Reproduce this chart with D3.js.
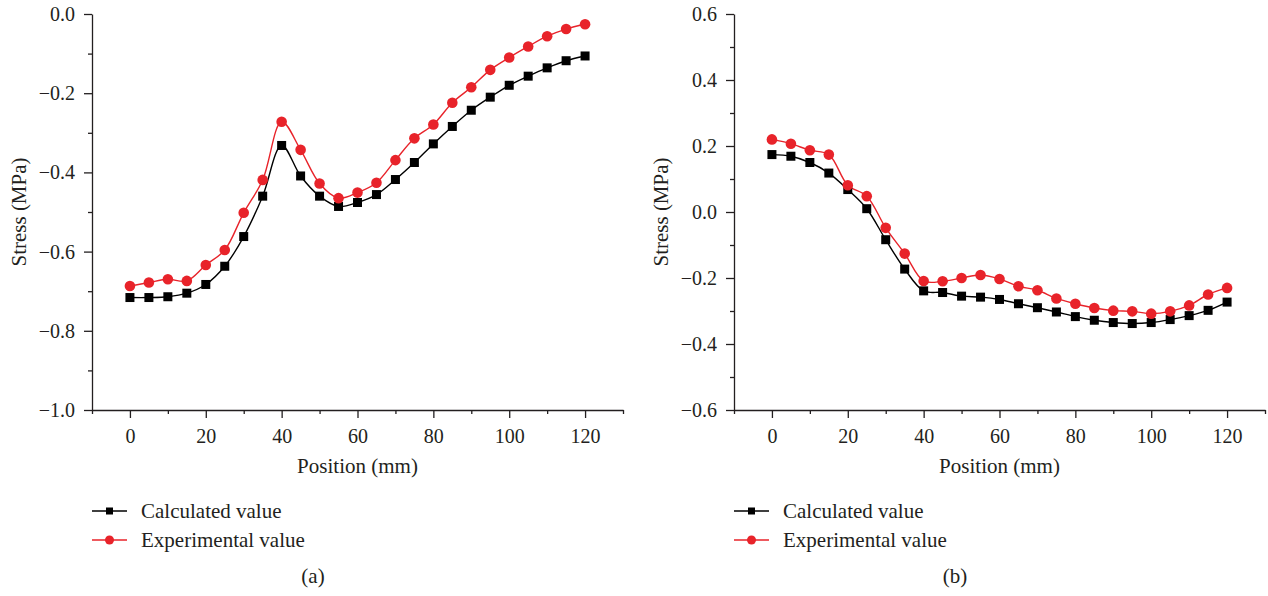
<!DOCTYPE html>
<html>
<head>
<meta charset="utf-8">
<script src="https://cdn.jsdelivr.net/npm/d3@7"></script>
<style>
  body { margin: 0; background: #fff; }
  svg text { font-family: "Liberation Serif", "DejaVu Serif", serif; fill: #231f20; }
  .axis path, .axis line { stroke: #231f20; stroke-width: 1.3px; }
</style>
</head>
<body>
<svg id="chart" width="1268" height="596"></svg>
<script>
// positions along the specimen (mm)
var positions = [0, 5, 10, 15, 20, 25, 30, 35, 40, 45, 50, 55, 60, 65, 70, 75, 80, 85, 90, 95, 100, 105, 110, 115, 120];

// panel (a)
var calcA = [-0.716, -0.716, -0.714, -0.705, -0.683, -0.637, -0.562, -0.460, -0.332, -0.409, -0.460, -0.486, -0.476, -0.456, -0.418, -0.375, -0.328, -0.284, -0.243, -0.210, -0.180, -0.157, -0.136, -0.118, -0.106];
var expA = [-0.687, -0.678, -0.670, -0.674, -0.634, -0.596, -0.502, -0.419, -0.272, -0.343, -0.428, -0.465, -0.451, -0.426, -0.369, -0.314, -0.279, -0.224, -0.185, -0.141, -0.110, -0.082, -0.056, -0.038, -0.026];

// panel (b)
var calcB = [0.174, 0.169, 0.150, 0.118, 0.068, 0.010, -0.084, -0.173, -0.239, -0.244, -0.255, -0.258, -0.265, -0.278, -0.290, -0.303, -0.317, -0.328, -0.335, -0.338, -0.335, -0.326, -0.314, -0.298, -0.273];
var expB = [0.220, 0.207, 0.187, 0.174, 0.081, 0.048, -0.048, -0.126, -0.209, -0.210, -0.200, -0.191, -0.203, -0.225, -0.237, -0.262, -0.278, -0.291, -0.299, -0.301, -0.308, -0.301, -0.283, -0.250, -0.230];

var xTicks = [0, 20, 40, 60, 80, 100, 120];
var xMinor = [-10, 10, 30, 50, 70, 90, 110, 130];
var yTicksA = [-1.0, -0.8, -0.6, -0.4, -0.2, 0.0];
var yMinorA = [-0.9, -0.7, -0.5, -0.3, -0.1];
var yTicksB = [-0.6, -0.4, -0.2, 0.0, 0.2, 0.4, 0.6];
var yMinorB = [-0.5, -0.3, -0.1, 0.1, 0.3, 0.5];

var seriesNames = ["Calculated value", "Experimental value"];
var red = "#e8232a";
var black = "#000000";

var svg = d3.select("#chart");

function drawPanel(opt) {
  var left = opt.left, right = opt.right, top = 14, bottom = 410;

  var x = d3.scaleLinear().domain([-10, 130]).range([left, right]);
  var y = d3.scaleLinear().domain(opt.yDomain).range([bottom, top]);

  var g = svg.append("g");

  // x axis, major + minor
  g.append("g").attr("class", "axis")
    .attr("transform", "translate(0," + bottom + ")")
    .call(d3.axisBottom(x).tickValues(xTicks).tickSize(8).tickSizeOuter(0).tickPadding(11)
      .tickFormat(d3.format("d")))
    .call(function(s) { s.selectAll("text").style("font-size", "20px"); });
  g.append("g").attr("class", "axis")
    .attr("transform", "translate(0," + bottom + ")")
    .call(d3.axisBottom(x).tickValues(xMinor).tickSize(4).tickSizeOuter(0).tickFormat(""))
    .call(function(s) { s.select(".domain").remove(); });

  // y axis
  g.append("g").attr("class", "axis")
    .attr("transform", "translate(" + left + ",0)")
    .call(d3.axisLeft(y).tickValues(opt.yTicks).tickSize(8).tickSizeOuter(0).tickPadding(9)
      .tickFormat(d3.format(".1f")))
    .call(function(s) { s.selectAll("text").style("font-size", "20px"); });
  g.append("g").attr("class", "axis")
    .attr("transform", "translate(" + left + ",0)")
    .call(d3.axisLeft(y).tickValues(opt.yMinor).tickSize(4).tickSizeOuter(0).tickFormat(""))
    .call(function(s) { s.select(".domain").remove(); });

  // axis titles
  g.append("text")
    .attr("x", (left + right) / 2)
    .attr("y", 473)
    .attr("text-anchor", "middle")
    .style("font-size", "21px")
    .text("Position (mm)");

  g.append("text")
    .attr("transform", "translate(" + (left - 66) + "," + ((top + bottom) / 2) + ") rotate(-90)")
    .attr("text-anchor", "middle")
    .style("font-size", "21px")
    .text("Stress (MPa)");

  var line = d3.line()
    .curve(d3.curveCatmullRom)
    .x(function(d, i) { return x(positions[i]); })
    .y(function(d) { return y(d); });

  // calculated
  g.append("path").datum(opt.calc)
    .attr("d", line)
    .attr("fill", "none")
    .attr("stroke", black)
    .attr("stroke-width", 1.4);
  // experimental
  g.append("path").datum(opt.exp)
    .attr("d", line)
    .attr("fill", "none")
    .attr("stroke", red)
    .attr("stroke-width", 1.4);

  g.append("g").selectAll("rect")
    .data(opt.calc).enter()
    .append("rect")
    .attr("x", function(d, i) { return x(positions[i]) - 4.5; })
    .attr("y", function(d) { return y(d) - 4.5; })
    .attr("width", 9)
    .attr("height", 9)
    .attr("fill", black);

  g.append("g").selectAll("circle")
    .data(opt.exp).enter()
    .append("circle")
    .attr("cx", function(d, i) { return x(positions[i]); })
    .attr("cy", function(d) { return y(d); })
    .attr("r", 5.3)
    .attr("fill", red);

  // legend
  var lg = g.append("g").attr("transform", "translate(" + left + ",511)");
  lg.append("line").attr("x1", 0).attr("x2", 35).attr("y1", 0).attr("y2", 0)
    .attr("stroke", black).attr("stroke-width", 1.4);
  lg.append("rect").attr("x", 14).attr("y", -3.5).attr("width", 7).attr("height", 7).attr("fill", black);
  lg.append("text").attr("x", 49).attr("y", 6.5)
    .style("font-size", "21px").text(seriesNames[0]);

  lg.append("line").attr("x1", 0).attr("x2", 35).attr("y1", 29).attr("y2", 29)
    .attr("stroke", red).attr("stroke-width", 1.4);
  lg.append("circle").attr("cx", 17.5).attr("cy", 29).attr("r", 4.5).attr("fill", red);
  lg.append("text").attr("x", 49).attr("y", 36)
    .style("font-size", "21px").text(seriesNames[1]);

  g.append("text")
    .attr("x", opt.labelX)
    .attr("y", 583)
    .attr("text-anchor", "middle")
    .style("font-size", "21px")
    .text(opt.label);
}

drawPanel({ left: 92, right: 623, yDomain: [-1.0, 0.0], yTicks: yTicksA, yMinor: yMinorA,
  calc: calcA, exp: expA, label: "(a)", labelX: 313 });
drawPanel({ left: 734, right: 1265, yDomain: [-0.6, 0.6], yTicks: yTicksB, yMinor: yMinorB,
  calc: calcB, exp: expB, label: "(b)", labelX: 955 });
</script>
</body>
</html>
